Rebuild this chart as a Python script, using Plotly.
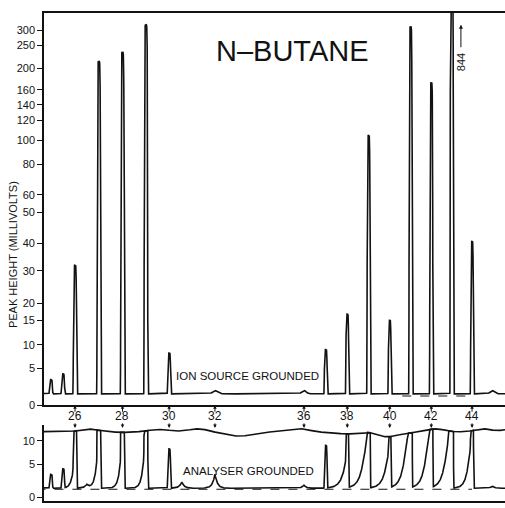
import numpy as np
import plotly.graph_objects as go

# ---------------- readings (millivolts) ----------------
PEAK_MASS = [25, 25.5, 26, 27, 28, 29, 30, 37, 38, 39, 40, 41, 42, 43, 44]
ION_SOURCE_MV = [3.5, 4.3, 32, 215, 235, 320, 8.3, 9.0, 16.8, 105, 15, 313, 173, 844, 40.6]
# low-mass scattering tail carried by each peak with the analyser grounded
ANALYSER_TAIL_MV = [0, 0, 6, 10, 10, 12, 0, 0, 6, 15, 8, 20, 18, 22, 12]
ANALYSER_TAIL_SPREAD = [0.1, 0.1, 0.1, 0.1, 0.1, 0.1, 0.1, 0.1, 0.2, 0.2, 0.2, 0.2, 0.2, 0.2, 0.16]

# small diffuse features between the main peaks
BUMP_MASS = [26.5, 30.55, 32, 36, 45]
ION_SOURCE_BUMP_MV = [1.65, 1.55, 2.0, 2.0, 2.0]
ANALYSER_BUMP_MV = [1.9, 2.3, 3.5, 1.8, 1.7]

ION_SOURCE_BASE_MV = 1.55
ANALYSER_BASE_MV = 1.35
ION_SOURCE_ZERO_MV = 1.25
ANALYSER_ZERO_MV = 1.2

# overload level of the analyser-grounded record
CEILING_MASS = [24.4, 24.66, 26.0, 26.5, 27.05, 27.9, 28.75, 29.6, 30.45, 31.3, 31.9, 33.1, 34.0,
                34.7, 35.8, 36.75, 37.2, 37.9, 38.6, 39.05, 39.8, 40.5, 41.0, 41.5, 42.2, 42.95,
                43.7, 44.7, 45.2, 45.7, 46.0]
CEILING_MV = [11.9, 11.9, 11.9, 12.7, 12.1, 11.7, 11.9, 12.5, 11.9, 12.7, 11.9, 10.8, 11.7,
              11.9, 12.7, 11.7, 11.9, 11.3, 11.7, 11.9, 10.6, 11.3, 11.7, 11.9, 12.7, 11.9,
              11.9, 12.7, 11.9, 12.5, 12.5]

# ---------------- scales ----------------
# non-linear meter gauge of the upper record: millivolts -> height above zero line
TOP_GAUGE_MV = [0, 5, 10, 15, 20, 30, 40, 50, 60, 80, 100, 120, 140, 160, 200, 250, 300, 400, 1000]
TOP_GAUGE_POS = [0, 37, 61, 86, 103, 136, 164, 195, 213, 244, 268, 288, 304, 319, 341, 364, 379, 409, 500]
TOP_TICKS_MV = [0, 5, 10, 15, 20, 30, 40, 50, 60, 80, 100, 120, 140, 160, 200, 250, 300]

BOT_GAUGE_MV = [0, 5, 10, 20]
BOT_GAUGE_POS = [0, 33, 57, 105]
BOT_TICKS_MV = [0, 5, 10]

MASS_TICKS = [26, 28, 30, 32, 36, 38, 40, 42, 44]

FIG_W, FIG_H = 505, 508


def band(top_px, bottom_px):
    """Vertical domain from pixel rows measured down from the top of the figure."""
    return [1 - bottom_px / FIG_H, 1 - top_px / FIG_H]


def row(px):
    return 1 - px / FIG_H


def scan(m):
    """Chart position of a given m/e (magnetic scan is slightly non-linear)."""
    d = np.asarray(m, dtype=float) - 26.0
    return d - 0.0044 * d ** 2


def top_pos(mv):
    return np.interp(mv, TOP_GAUGE_MV, TOP_GAUGE_POS)


def bot_pos(mv):
    return np.interp(mv, BOT_GAUGE_MV, BOT_GAUGE_POS)


mass = np.arange(24.4, 46.0, 0.004)


def spike(c):
    return np.exp(-(np.abs(mass - c) / 0.066) ** 6)


def gauss(c, w):
    return np.exp(-0.5 * ((mass - c) / w) ** 2)


def cusp(c, w):
    return np.exp(-np.abs(mass - c) / w)


def tail(c, w):
    d = c - mass
    return np.where(d > 0, np.exp(-np.clip(d, 0, None) / w), 0.0)


# upper record: ion source grounded
top_mv = np.full_like(mass, ION_SOURCE_BASE_MV)
for m, h in zip(PEAK_MASS, ION_SOURCE_MV):
    top_mv += (h - ION_SOURCE_BASE_MV) * spike(m)
for m, h in zip(BUMP_MASS, ION_SOURCE_BUMP_MV):
    top_mv += (h - ION_SOURCE_BASE_MV) * gauss(m, 0.1)

# lower record: analyser grounded
bot_mv = np.full_like(mass, ANALYSER_BASE_MV)
for m, h, t, w in zip(PEAK_MASS, ION_SOURCE_MV, ANALYSER_TAIL_MV, ANALYSER_TAIL_SPREAD):
    bot_mv += (h - ANALYSER_BASE_MV) * spike(m) + t * tail(m, w)
for m, h in zip(BUMP_MASS, ANALYSER_BUMP_MV):
    bot_mv += (h - ANALYSER_BASE_MV) * cusp(m, 0.11)

ceiling = np.interp(mass, CEILING_MASS, CEILING_MV)
k = 90
ceiling = np.convolve(np.pad(ceiling, k, mode="edge"), np.ones(2 * k + 1) / (2 * k + 1), mode="same")[k:-k]
bot_mv = np.minimum(bot_mv, ceiling)

INK = "#121212"
FONT = "Liberation Sans"
LW = 1.6

fig = go.Figure()
fig.add_trace(go.Scatter(x=scan(mass), y=top_pos(top_mv), mode="lines",
                         line=dict(color=INK, width=LW), xaxis="x", yaxis="y"))
zt = np.array([40.6, 44.0])
fig.add_trace(go.Scatter(x=scan(zt), y=top_pos(np.full(2, ION_SOURCE_ZERO_MV)), mode="lines",
                         line=dict(color=INK, width=1.1, dash="dash"), xaxis="x", yaxis="y"))
fig.add_trace(go.Scatter(x=scan(mass), y=bot_pos(bot_mv), mode="lines",
                         line=dict(color=INK, width=LW), xaxis="x2", yaxis="y2"))
fig.add_trace(go.Scatter(x=scan(mass), y=bot_pos(ceiling), mode="lines",
                         line=dict(color=INK, width=LW), xaxis="x2", yaxis="y2"))
zb = np.array([24.4, 44.0])
fig.add_trace(go.Scatter(x=scan(zb), y=bot_pos(np.full(2, ANALYSER_ZERO_MV)), mode="lines",
                         line=dict(color=INK, width=1.1, dash="dash"), xaxis="x2", yaxis="y2"))

xr = [-1.294, 17.95]
axis_common = dict(showgrid=False, zeroline=False, linecolor=INK, linewidth=1.6)
centered = dict(xanchor="center", yanchor="middle")

ann = []
for m in MASS_TICKS:
    u = float(scan(m))
    ann.append(dict(x=u, y=0, xref="x", yref="y", text="", showarrow=True, ax=0, ay=8,
                    arrowhead=2, arrowsize=0.7, arrowwidth=1, arrowcolor=INK))
    ann.append(dict(x=u, y=row(421), xref="x", yref="paper", text=str(m), showarrow=False,
                    font=dict(family=FONT, size=12, color=INK), **centered))
    ann.append(dict(x=u, y=row(433), xref="x", yref="paper", text="", showarrow=True, ax=0, ay=-6,
                    arrowhead=2, arrowsize=0.7, arrowwidth=1, arrowcolor=INK))

ann += [
    dict(x=9.06, y=358, xref="x", yref="y", text="N\u2013BUTANE", showarrow=False,
         font=dict(family=FONT, size=29, color=INK), **centered),
    dict(x=7.18, y=29, xref="x", yref="y", text="ION SOURCE GROUNDED", showarrow=False,
         font=dict(family=FONT, size=11.5, color=INK), **centered),
    dict(x=7.26, y=row(477), xref="x", yref="paper", text="ANALYSER GROUNDED", showarrow=False,
         font=dict(family=FONT, size=11.5, color=INK), **centered),
    dict(x=-0.067, y=row(258), xref="paper", yref="paper", text="PEAK HEIGHT (MILLIVOLTS)",
         textangle=-90, showarrow=False, font=dict(family=FONT, size=11, color=INK), **centered),
    dict(x=16.11, y=347, xref="x", yref="y", text="844", textangle=-90, showarrow=False,
         font=dict(family=FONT, size=11, color=INK), **centered),
    dict(x=16.11, y=385, xref="x", yref="y", text="", showarrow=True, ax=0, ay=24,
         arrowhead=2, arrowsize=0.8, arrowwidth=1, arrowcolor=INK),
]

fig.update_layout(
    width=FIG_W, height=FIG_H,
    margin=dict(l=44, r=0, t=0, b=0),
    paper_bgcolor="white", plot_bgcolor="white",
    showlegend=False,
    xaxis=dict(domain=[0, 1], range=xr, anchor="y", showline=True, mirror=True,
               showticklabels=False, ticks="", **axis_common),
    yaxis=dict(domain=band(13, 410), range=[0, 397], anchor="x", showline=True,
               tickvals=list(top_pos(TOP_TICKS_MV)), ticktext=[str(v) for v in TOP_TICKS_MV],
               ticks="outside", ticklen=5, tickwidth=1.2, tickcolor=INK,
               tickfont=dict(family=FONT, size=11, color=INK), **axis_common),
    xaxis2=dict(domain=[0, 1], range=xr, anchor="y2", showline=True,
                showticklabels=False, ticks="", **axis_common),
    yaxis2=dict(domain=band(430, 507), range=[-4, 73], anchor="x2", showline=True,
                tickvals=list(bot_pos(BOT_TICKS_MV)), ticktext=[str(v) for v in BOT_TICKS_MV],
                ticks="outside", ticklen=5, tickwidth=1.2, tickcolor=INK,
                tickfont=dict(family=FONT, size=11, color=INK), **axis_common),
    annotations=ann,
)

fig.write_html("out.html")
